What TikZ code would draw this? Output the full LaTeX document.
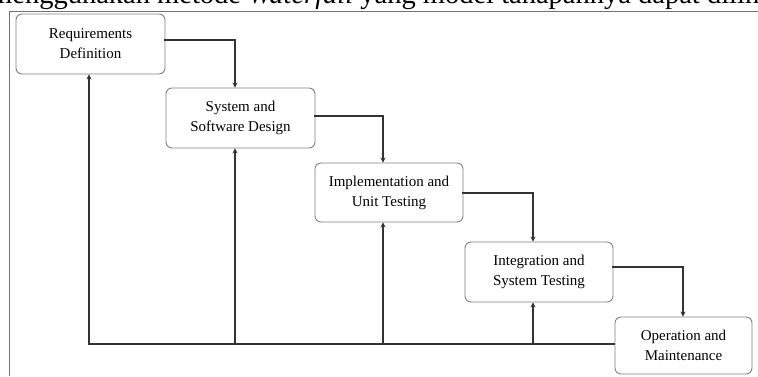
\documentclass[tikz,border=0pt]{standalone}
\usepackage{fontspec}
\setmainfont{Liberation Serif}
\usetikzlibrary{arrows.meta}

\begin{document}
\begin{tikzpicture}[x=1pt,y=1pt,yscale=-1,
    phase/.style={draw=black!50, line width=0.9pt, rounded corners=6pt, fill=white,
        align=center, inner sep=0pt, font=\fontsize{15}{20}\selectfont},
    flow/.style={draw=black!80, line width=2pt, line cap=rect,
        -{Stealth[length=5pt,width=5pt]}},
    link/.style={draw=black!80, line width=2pt}]
    \useasboundingbox (0,0) rectangle (758,376);

    % text line of the page above the figure
    \begin{scope}
    \clip (0,0) rectangle (758,10);
    \node (pagetext) [anchor=base west, inner sep=0pt, font=\fontsize{28.5}{30}\selectfont]
        at (-10,3) {menggunakan metode \textit{Waterfall} yang model tahapannya dapat dilihat};
    \end{scope}

    % frame
    \draw [black!55, line width=1pt] (9,376) -- (9,11) -- (758,11);

    % phases
    \node (req) [phase, minimum width=149pt, minimum height=60pt] at (90.5,44) {Requirements\\Definition};
    \node (design) [phase, minimum width=149pt, minimum height=60pt] at (240.5,118) {System and\\Software Design};
    \node (impl) [phase, minimum width=148pt, minimum height=59pt] at (389,192.5) {Implementation and\\Unit Testing};
    \node (integ) [phase, minimum width=148pt, minimum height=60pt] at (539,272) {Integration and\\System Testing};
    \node (oper) [phase, minimum width=137pt, minimum height=57pt] at (683.5,345.5) {Operation and\\Maintenance};

    % columns of the vertical lines
    \coordinate (colA) at (89,0);
    \coordinate (colB) at (235,0);
    \coordinate (colC) at (383,0);
    \coordinate (colD) at (533,0);
    \coordinate (colE) at (683,0);
    \coordinate (base) at (0,344);

    % forward steps
    \draw [flow] ([yshift=-4pt]req.east) -| (colB |- design.north);
    \draw [flow] ([yshift=-2pt]design.east) -| (colC |- impl.north);
    \draw [flow] (impl.east) -| (colD |- integ.north);
    \draw [flow] ([yshift=-5pt]integ.east) -| (colE |- oper.north);

    % feedback
    \draw [link] (colA |- base) -- (oper.west |- base);
    \draw [flow] (colA |- base) -- (colA |- req.south);
    \draw [flow] (colB |- base) -- (colB |- design.south);
    \draw [flow] (colC |- base) -- (colC |- impl.south);
    \draw [flow] (colD |- base) -- (colD |- integ.south);
\end{tikzpicture}
\end{document}
